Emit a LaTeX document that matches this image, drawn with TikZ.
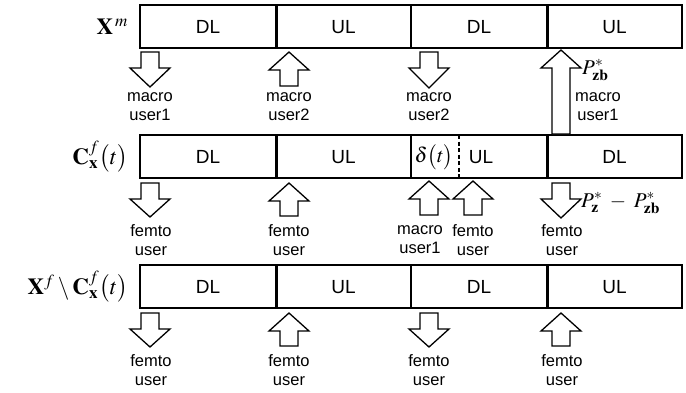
\documentclass[tikz,border=0pt]{standalone}
\usepackage{mathptmx}
\usepackage{fontspec}
\setmainfont{Liberation Sans}
\begin{document}
\begin{tikzpicture}[x=1pt,y=-1pt,
  frame/.style={draw, line width=1.8pt},
  thin div/.style={line width=1.6pt},
  thick div/.style={line width=3pt},
  blk/.style={draw, line width=1.3pt, fill=white, line join=miter},
  slot/.style={font=\fontsize{19}{21}\selectfont, inner sep=0pt},
  lab/.style={font=\fontsize{16.5}{19}\selectfont, align=center, inner sep=0pt},
  mlab/.style={font=\fontsize{23}{26}\selectfont, inner sep=0pt, anchor=east},
  plab/.style={font=\fontsize{21}{23}\selectfont, inner sep=0pt, anchor=west}]
\useasboundingbox (0,0) rectangle (686,392);
% down arrow: center x, top y, bottom(tip) y
\newcommand\dnarr[3]{\draw[blk] (#1-9,#2) -- (#1+9,#2) -- (#1+9,#2+16) -- (#1+20,#2+16) -- (#1,#3) -- (#1-20,#2+16) -- (#1-9,#2+16) -- cycle;}
\newcommand\uparr[3]{\draw[blk] (#1,#2) -- (#1+20,#2+18) -- (#1+9,#2+18) -- (#1+9,#3) -- (#1-9,#3) -- (#1-9,#2+18) -- (#1-20,#2+18) -- cycle;}
% ---- Row 1
\draw[frame] (140,5) rectangle (682,48);
\draw[thick div] (276,5) -- (276,48);
\draw[thin div] (411,5) -- (411,48);
\draw[thick div] (547,5) -- (547,48);
\node[slot] (r1a) at (208,27) {DL};
\node[slot] (r1b) at (343.5,27) {UL};
\node[slot] (r1c) at (479,27) {DL};
\node[slot] (r1d) at (614.5,27) {UL};
\node[mlab] (l1) at (128,27) {$\mathbf{X}^{\,m}$};
% ---- Row 2
\draw[frame] (140,135) rectangle (682,178);
\draw[thick div] (276,135) -- (276,178);
\draw[thin div] (411,135) -- (411,178);
\draw[line width=1.8pt, dash pattern=on 4pt off 2.5pt] (459,135) -- (459,178);
\draw[thick div] (547,135) -- (547,178);
\node[slot] (r2a) at (208,157) {DL};
\node[slot] (r2b) at (343.5,157) {UL};
\node[slot, font=\fontsize{21}{23}\selectfont] (r2c) at (434,157) {$\delta\bigl(t\bigr)$};
\node[slot] (r2d) at (481,157) {UL};
\node[slot] (r2e) at (614.5,157) {DL};
\node[mlab] (l2) at (128,157) {$\mathbf{C}^{f}_{\mathbf{x}}\bigl(t\bigr)$};
% ---- Row 3
\draw[frame] (140,265) rectangle (682,308);
\draw[thick div] (276,265) -- (276,308);
\draw[thin div] (411,265) -- (411,308);
\draw[thick div] (547,265) -- (547,308);
\node[slot] (r3a) at (208,287) {DL};
\node[slot] (r3b) at (343.5,287) {UL};
\node[slot] (r3c) at (479,287) {DL};
\node[slot] (r3d) at (614.5,287) {UL};
\node[mlab] (l3) at (128,287) {$\mathbf{X}^{f}\setminus\mathbf{C}^{f}_{\mathbf{x}}\bigl(t\bigr)$};
% ---- Arrows row 1
\dnarr{150}{52}{87}
\uparr{289}{52}{86}
\dnarr{429}{52}{88}
\uparr{561}{50}{134}
\node[lab] (a1) at (150,107) {macro\\user1};
\node[lab] (a2) at (289,107) {macro\\user2};
\node[lab] (a3) at (429,107) {macro\\user2};
\node[lab] (a4) at (598,107) {macro\\user1};
\node[plab] (p1) at (582,70) {$P^{*}_{\mathbf{zb}}$};
% ---- Arrows row 2
\dnarr{150}{183}{217}
\uparr{289}{183}{216}
\uparr{429}{181}{215}
\uparr{473}{181}{215}
\dnarr{561}{183}{218}
\node[lab] (b1) at (151,240) {femto\\user};
\node[lab] (b2) at (289,240) {femto\\user};
\node[lab] (b3) at (420,240) {macro\\user1};
\node[lab] (b4) at (473,240) {femto\\user};
\node[lab] (b5) at (562,240) {femto\\user};
\node[plab] (p2) at (581,203) {$P^{*}_{\mathbf{z}}\;-\;P^{*}_{\mathbf{zb}}$};
% ---- Arrows row 3
\dnarr{150}{313}{347}
\uparr{289}{313}{346}
\dnarr{429}{313}{347}
\uparr{561}{313}{346}
\node[lab] (c1) at (151,370) {femto\\user};
\node[lab] (c2) at (289,370) {femto\\user};
\node[lab] (c3) at (429,370) {femto\\user};
\node[lab] (c4) at (562,370) {femto\\user};
\end{tikzpicture}
\end{document}
